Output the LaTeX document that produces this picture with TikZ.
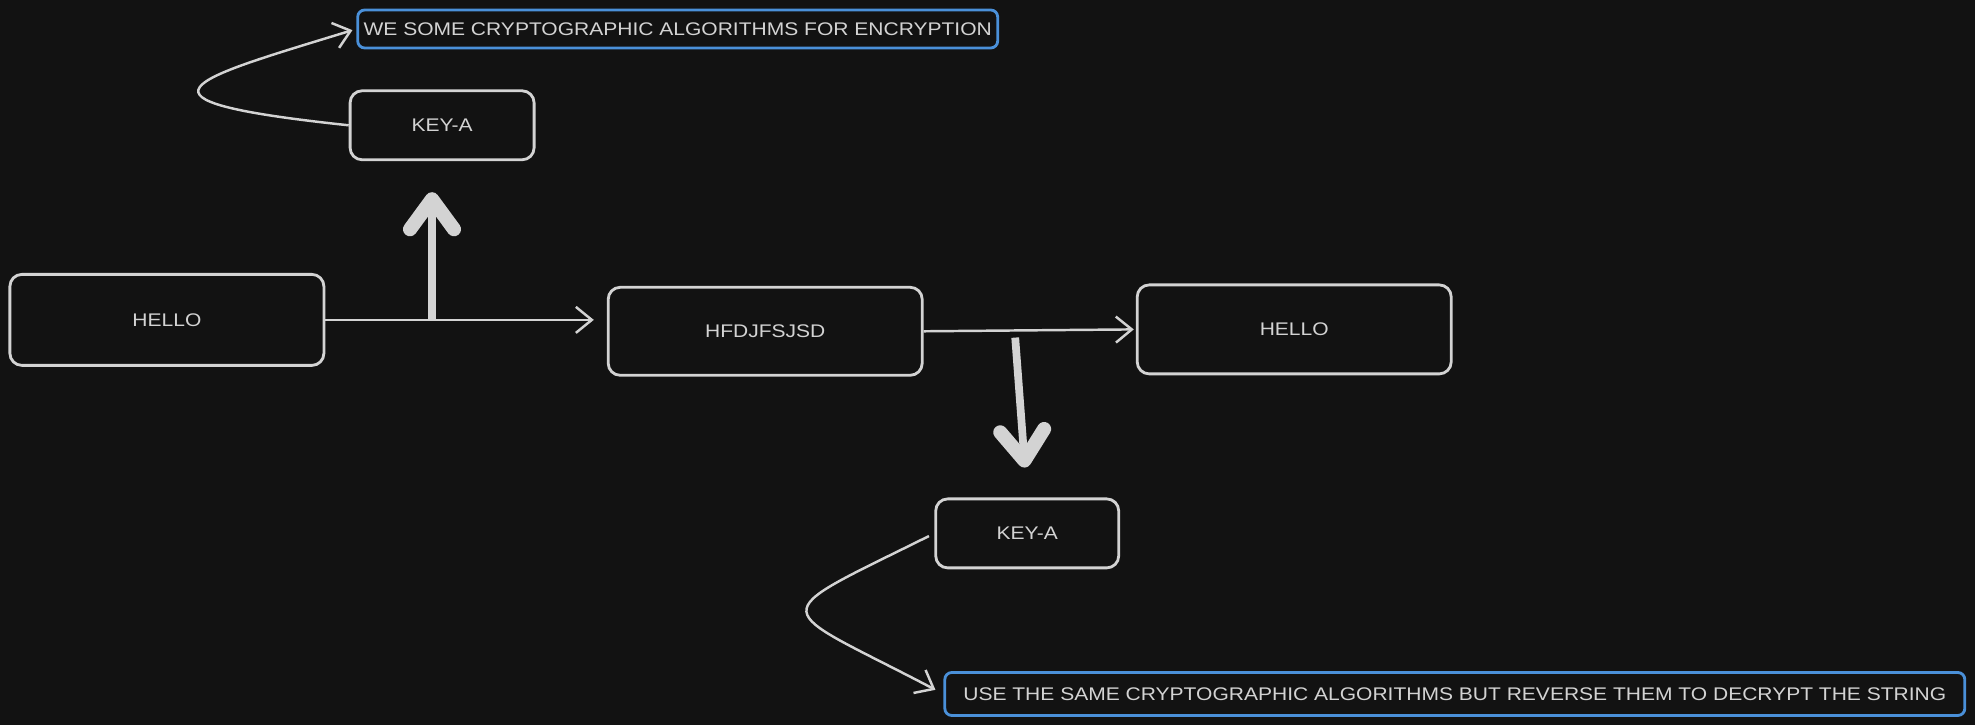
\documentclass[tikz,border=0pt]{standalone}
\usepackage{fontspec}
\newfontfamily\sketchfont[FakeStretch=1.15]{Liberation Sans}
\usetikzlibrary{arrows.meta}
\definecolor{canvas}{HTML}{121212}
\definecolor{chalk}{HTML}{D3D3D3}
\definecolor{inkblue}{HTML}{4A90D9}
\tikzset{
  box/.style={draw=chalk, line width=0.8pt, rounded corners=1.2mm, inner sep=0pt,
    text=chalk, font=\sketchfont\fontsize{5.2}{6}\selectfont},
  note/.style={box, draw=inkblue, rounded corners=0.7mm},
  thin/.style={draw=chalk, line width=0.7pt, -{Straight Barb[length=1.6mm, width=2.6mm]}},
  fatarrow/.style={draw=chalk, line width=2.2pt,
    -{Straight Barb[length=3mm, width=4.4mm, line width=4pt, round]}}
}
\begin{document}
\begin{tikzpicture}
        \fill[canvas] (0, 0) rectangle (19.75, 7.25);
        \useasboundingbox (0, 0) rectangle (19.75, 7.25);
        % boxes
        \node[note, minimum width=6.40cm, minimum height=0.38cm] (note1) at (6.777, 6.96) {WE SOME CRYPTOGRAPHIC ALGORITHMS FOR ENCRYPTION};
        \node[box, minimum width=1.84cm, minimum height=0.69cm] (key1) at (4.421, 5.997) {KEY-A};
        \node[box, minimum width=3.14cm, minimum height=0.91cm] (hello1) at (1.669, 4.051) {HELLO};
        \node[box, minimum width=3.14cm, minimum height=0.88cm] (cipher) at (7.652, 3.937) {HFDJFSJSD};
        \node[box, minimum width=3.14cm, minimum height=0.89cm] (hello2) at (12.942, 3.956) {HELLO};
        \node[box, minimum width=1.83cm, minimum height=0.69cm] (key2) at (10.272, 1.916) {KEY-A};
        \node[note, minimum width=10.20cm, minimum height=0.43cm] (note2) at (14.548, 0.31) {USE THE SAME CRYPTOGRAPHIC ALGORITHMS BUT REVERSE THEM TO DECRYPT THE STRING};
        % arrows
        \coordinate (split1) at (4.32, 4.06);
        \coordinate (split2) at (10.152, 3.874);
        \draw[thin, shorten >=0.13cm] (hello1.east) -- (hello1.east -| cipher.west);
        \draw[thin, shorten >=0.02cm] (cipher.east) -- (hello2.west);
        \draw[fatarrow, shorten >=0.31cm] (split1) -- (split1 |- key1.south);
        \draw[fatarrow, shorten >=0.3cm] (split2) -- (key2.north);
        \draw[thin, shorten >=0.04cm] (key1.west) .. controls (1.1, 6.25) and (1.9, 6.45) .. (note1.west);
        \draw[thin, shorten <=0.06cm, shorten >=0.09cm] (key2.west) .. controls (7.6, 1.05) and (7.7, 1.22) .. (note2.west);
\end{tikzpicture}
\end{document}
